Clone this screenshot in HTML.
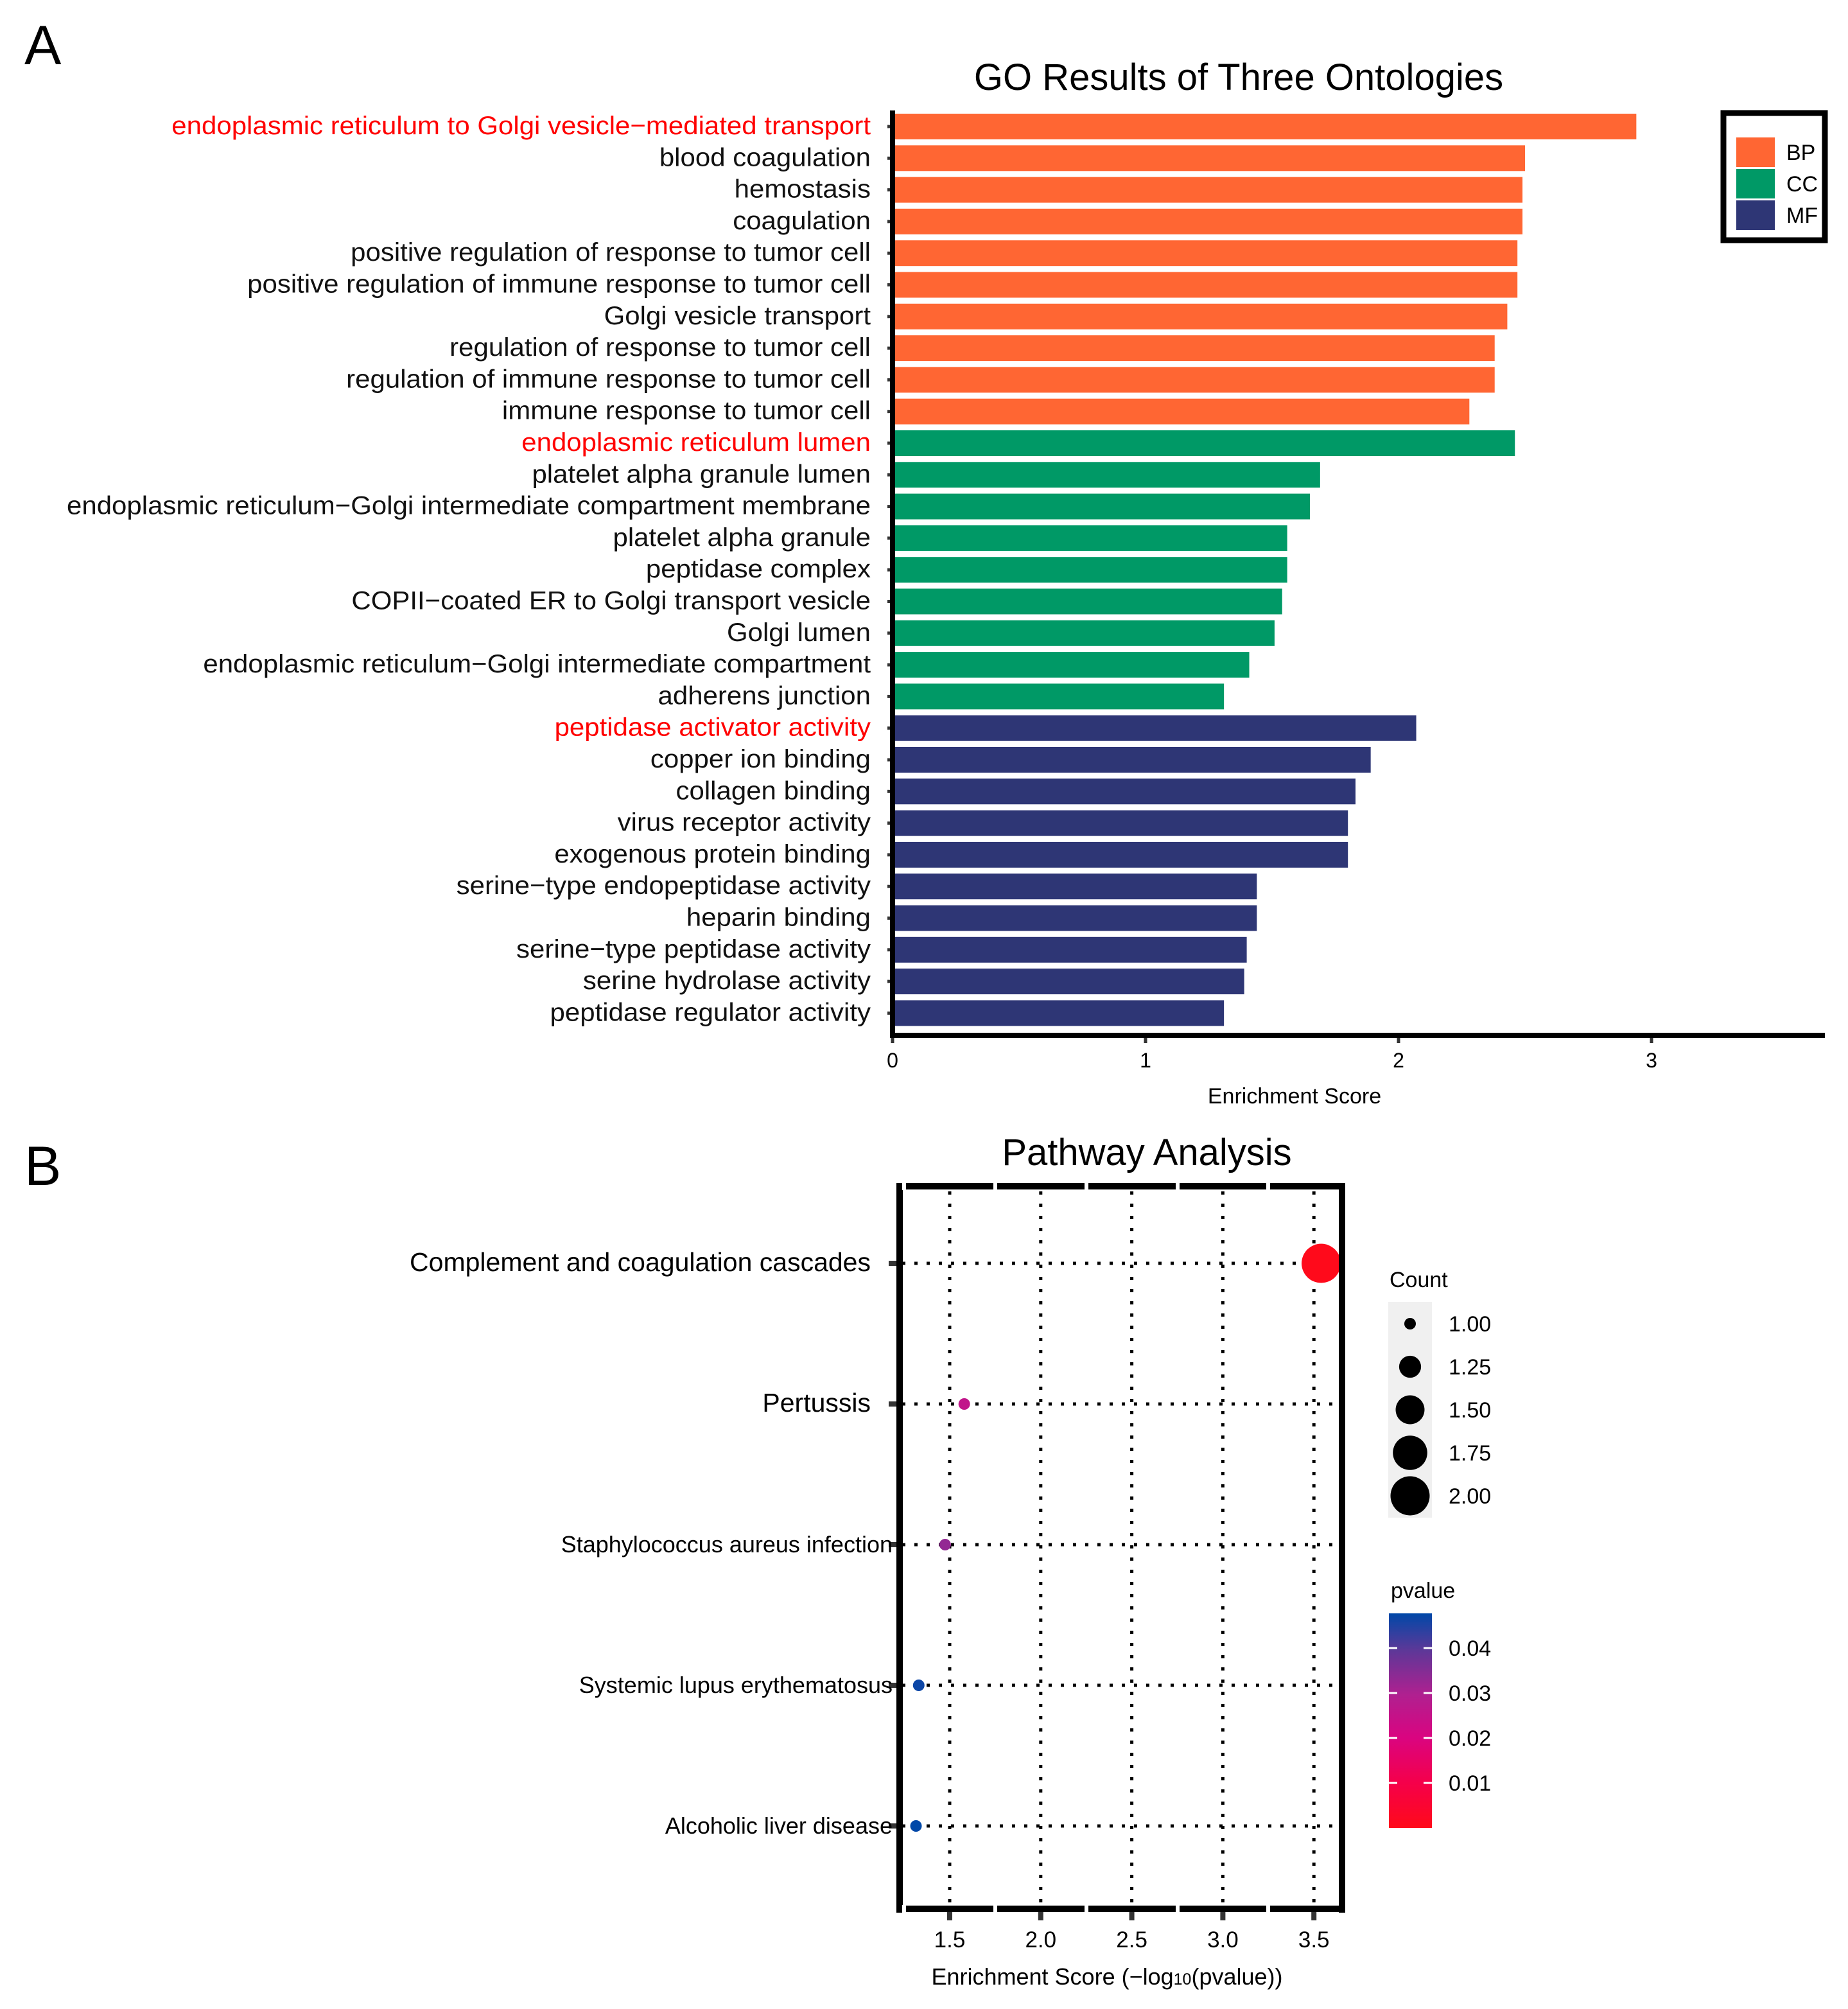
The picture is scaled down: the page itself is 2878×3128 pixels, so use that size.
<!DOCTYPE html>
<html><head><meta charset="utf-8"><style>
html,body{margin:0;padding:0;background:#fff;}
svg{display:block;font-family:"Liberation Sans",Arial,sans-serif;}
</style></head><body>
<svg id="chart" width="2878" height="3128" viewBox="0 0 2878 3128" xmlns="http://www.w3.org/2000/svg">
<text x="38" y="100" font-size="86">A</text>
<text x="38" y="1845" font-size="86">B</text>
<text x="1929" y="140" font-size="58" text-anchor="middle">GO Results of Three Ontologies</text>
<g id="goBars"></g>
<g id="goLabels"></g>
<g id="goAxis"></g>
<text x="2016" y="1718" font-size="34" text-anchor="middle">Enrichment Score</text>
<g>
<rect x="2684" y="176" width="158" height="198" fill="#fff" stroke="#000" stroke-width="9"/>
<rect x="2704" y="214" width="60" height="46" fill="#FF6633"/>
<rect x="2704" y="263" width="60" height="46" fill="#009966"/>
<rect x="2704" y="312" width="60" height="46" fill="#2E3675"/>
<text x="2782" y="249" font-size="34">BP</text>
<text x="2782" y="298" font-size="34">CC</text>
<text x="2782" y="347" font-size="34">MF</text>
</g>
<text x="1786" y="1814" font-size="58" text-anchor="middle">Pathway Analysis</text>
<g id="pw"></g>
<text x="1724" y="3090" font-size="36" text-anchor="middle">Enrichment Score (−log<tspan font-size="25">10</tspan>(pvalue))</text>
<g>
<text x="2164" y="2004" font-size="34">Count</text>
<rect x="2162" y="2027" width="68" height="336" fill="#f0f0f0"/>
<g id="countLegend"></g>
</g>
<defs><linearGradient id="pg" x1="0" y1="1" x2="0" y2="0">
<stop offset="0" stop-color="#FF0A1A"/><stop offset="0.21" stop-color="#F5004A"/><stop offset="0.42" stop-color="#DA0480"/><stop offset="0.62" stop-color="#B02090"/><stop offset="0.83" stop-color="#5C3898"/><stop offset="1" stop-color="#0048A8"/></linearGradient></defs>
<g>
<text x="2166" y="2488" font-size="34">pvalue</text>
<rect x="2163" y="2512" width="67" height="334" fill="url(#pg)"/>
<g id="pvTicks"></g>
</g>
</svg>
<script>
// GO chart data
const goTerms = ["endoplasmic reticulum to Golgi vesicle−mediated transport","blood coagulation","hemostasis","coagulation","positive regulation of response to tumor cell","positive regulation of immune response to tumor cell","Golgi vesicle transport","regulation of response to tumor cell","regulation of immune response to tumor cell","immune response to tumor cell","endoplasmic reticulum lumen","platelet alpha granule lumen","endoplasmic reticulum−Golgi intermediate compartment membrane","platelet alpha granule","peptidase complex","COPII−coated ER to Golgi transport vesicle","Golgi lumen","endoplasmic reticulum−Golgi intermediate compartment","adherens junction","peptidase activator activity","copper ion binding","collagen binding","virus receptor activity","exogenous protein binding","serine−type endopeptidase activity","heparin binding","serine−type peptidase activity","serine hydrolase activity","peptidase regulator activity"];
const goScores = [2.94,2.50,2.49,2.49,2.47,2.47,2.43,2.38,2.38,2.28,2.46,1.69,1.65,1.56,1.56,1.54,1.51,1.41,1.31,2.07,1.89,1.83,1.80,1.80,1.44,1.44,1.40,1.39,1.31];
const goCats = ["BP","BP","BP","BP","BP","BP","BP","BP","BP","BP","CC","CC","CC","CC","CC","CC","CC","CC","CC","MF","MF","MF","MF","MF","MF","MF","MF","MF","MF"];
const goHighlight = [0,10,19];
const goTicks = [0,1,2,3];
// Pathway data
const pwNames = ["Complement and coagulation cascades","Pertussis","Staphylococcus aureus infection","Systemic lupus erythematosus","Alcoholic liver disease"];
const pwScores = [3.54,1.58,1.475,1.33,1.315];
const pwCounts = [2,1,1,1,1];
const pwP = [0.0003,0.026,0.0335,0.047,0.048];
const pwTicks = [1.5,2.0,2.5,3.0,3.5];
const countLevels = [1.00,1.25,1.50,1.75,2.00];
const pTicks = [0.01,0.02,0.03,0.04];

const NS="http://www.w3.org/2000/svg";
function mk(tag,attrs,parent){const e=document.createElementNS(NS,tag);for(const k in attrs)e.setAttribute(k,attrs[k]);parent.appendChild(e);return e;}
const catColor={BP:"#FF6633",CC:"#009966",MF:"#2E3675"};
const gx=v=>1390+v*394;
const gy=i=>197+i*49.3;
const bars=document.getElementById('goBars'), labs=document.getElementById('goLabels'), gax=document.getElementById('goAxis');
goScores.forEach((v,i)=>{
  const r=mk('rect',{x:gx(0),y:gy(i)-20,width:gx(v)-gx(0),height:40,fill:catColor[goCats[i]]},bars);
  
  
  const t=mk('text',{x:0,y:0,'font-size':40,'text-anchor':'end',fill:goHighlight.includes(i)?'#FF0000':'#111'},labs);
  t.textContent=goTerms[i];
  
  
  mk('line',{x1:1382,x2:1388,y1:gy(i),y2:gy(i),stroke:'#333','stroke-width':5},gax);
});
const first=labs.firstChild; const nat=first.getComputedTextLength(); const k=nat>0?1089/nat:1.0;
Array.from(labs.children).forEach((t,i)=>{t.setAttribute('transform','translate(1356,'+(gy(i)+12)+') scale('+k+',1)');});
mk('line',{x1:gx(0),x2:gx(0),y1:172,y2:1614,stroke:'#000','stroke-width':8},gax);
mk('line',{x1:gx(0)-4,x2:2842,y1:1612,y2:1612,stroke:'#000','stroke-width':8},gax);
goTicks.forEach(v=>{
  mk('line',{x1:gx(v),x2:gx(v),y1:1616,y2:1624,stroke:'#333','stroke-width':5},gax);
  const t=mk('text',{x:gx(v),y:1662,'font-size':32,'text-anchor':'middle'},gax);
  t.textContent=String(v);
  
  
});
// Pathway
const pw=document.getElementById('pw');
const px=v=>1479+(v-1.5)*283.6;
const py=i=>1967+i*219;
const rad=c=>Math.sqrt(81+(930-81)*(c-1));
function pcol(p){
  const stops=[[0,[255,10,26]],[0.01,[245,0,74]],[0.02,[218,4,128]],[0.03,[176,32,144]],[0.04,[92,56,152]],[0.048,[0,72,168]]];
  for(let i=1;i<stops.length;i++){if(p<=stops[i][0]){const a=stops[i-1],b=stops[i];const t=(p-a[0])/(b[0]-a[0]);return 'rgb('+a[1].map((c,j)=>Math.round(c+(b[1][j]-c)*t)).join(',')+')';}}
  return 'rgb(0,72,168)';
}
pwTicks.forEach(v=>{
  const l=mk('line',{x1:px(v),x2:px(v),y1:1855,y2:2962,stroke:'#000','stroke-width':5,'stroke-dasharray':'5 14'},pw);
  
  
  mk('line',{x1:px(v),x2:px(v),y1:2975,y2:2990,stroke:'#333','stroke-width':8},pw);
  const t=mk('text',{x:px(v),y:3032,'font-size':35,'text-anchor':'middle'},pw);
  t.textContent=v.toFixed(1);
  
  
});
pwNames.forEach((n,i)=>{
  const l=mk('line',{x1:1405,x2:2088,y1:py(i),y2:py(i),stroke:'#000','stroke-width':5,'stroke-dasharray':'5 14'},pw);
  
  
  mk('line',{x1:1384,x2:1396,y1:py(i),y2:py(i),stroke:'#333','stroke-width':8},pw);
  const big=i<2;
  const t=mk('text',{x:big?1356:1390,y:py(i)+(big?12:12),'font-size':big?41:36,'text-anchor':'end'},pw);
  t.textContent=n;
  
  
});
pwScores.forEach((v,i)=>{
  const c=mk('circle',{cx:px(v),cy:py(i),r:rad(pwCounts[i]),fill:pcol(pwP[i])},pw);
  
  
});
mk('line',{x1:1401,x2:1401,y1:1842,y2:2978,stroke:'#000','stroke-width':10},pw);
mk('line',{x1:2090,x2:2090,y1:1842,y2:2978,stroke:'#000','stroke-width':10},pw);
mk('line',{x1:1396,x2:2095,y1:1847,y2:1847,stroke:'#000','stroke-width':10},pw);
mk('line',{x1:1396,x2:2095,y1:2972,y2:2972,stroke:'#000','stroke-width':10},pw);
[1408,1550,1692,1834,1975].forEach(x=>{
  mk('rect',{x:x-3,y:1841,width:6,height:12,fill:'#fff'},pw);
  mk('rect',{x:x-3,y:2966,width:6,height:12,fill:'#fff'},pw);
});
const cl=document.getElementById('countLegend');
countLevels.forEach((c,i)=>{
  const y=2061+i*67;
  const d=mk('circle',{cx:2196,cy:y,r:rad(c),fill:'#000'},cl);
  
  
  const t=mk('text',{x:2256,y:y+12,'font-size':34},cl);
  t.textContent=c.toFixed(2);
  
  
});
const pvt=document.getElementById('pvTicks');
const pY=p=>2846-p*7000;
pTicks.forEach(p=>{
  mk('line',{x1:2163,x2:2176,y1:pY(p),y2:pY(p),stroke:'#fff','stroke-width':3},pvt);
  mk('line',{x1:2217,x2:2230,y1:pY(p),y2:pY(p),stroke:'#fff','stroke-width':3},pvt);
  const t=mk('text',{x:2256,y:pY(p)+12,'font-size':34},pvt);
  t.textContent=p.toFixed(2);
  
  
});
</script>
</body></html>
